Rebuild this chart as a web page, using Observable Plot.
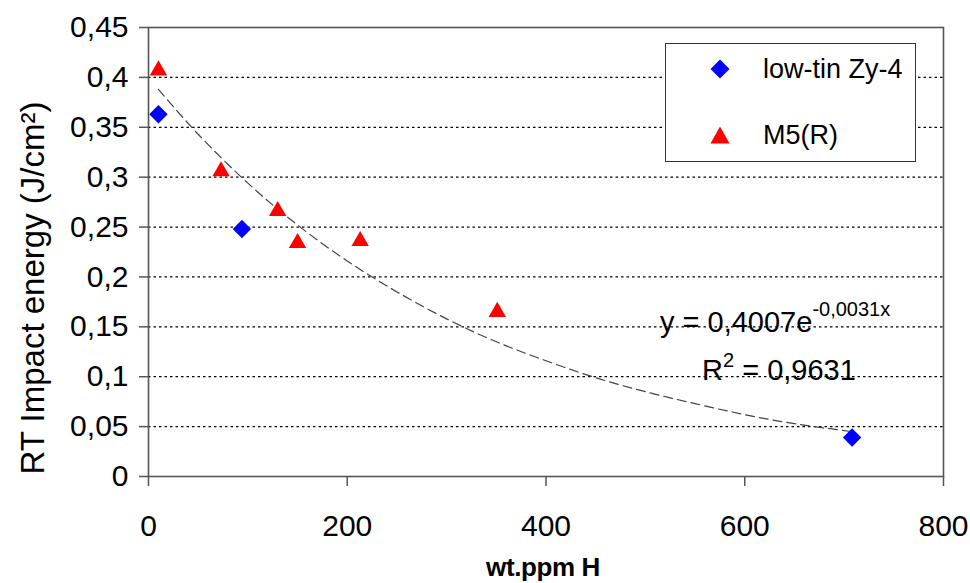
<!DOCTYPE html>
<html>
<head>
<meta charset="utf-8">
<script src="https://cdn.jsdelivr.net/npm/d3@7"></script>
<script src="https://cdn.jsdelivr.net/npm/@observablehq/plot@0.6"></script>
<style>
  html, body { margin: 0; padding: 0; background: #fff; }
  #wrap { position: relative; width: 970px; height: 583px; font-family: "Liberation Sans", Arial, sans-serif; color: #000; }
  #wrap svg { display: block; }
  .abs { position: absolute; white-space: nowrap; line-height: 1; }
</style>
</head>
<body>
<div id="wrap"></div>
<script>
// ---- data ----
const seriesNames = ["low-tin Zy-4", "M5(R)"];
const lowTinX = [10, 94, 708];
const lowTinY = [0.363, 0.248, 0.039];
const m5X = [10, 73, 130, 150, 213, 351];
const m5Y = [0.407, 0.306, 0.266, 0.234, 0.236, 0.165];
// exponential trendline
const fitX = [10, 50, 100, 150, 200, 250, 300, 350, 400, 450, 500, 550, 600, 650, 708];
const fitY = [0.388, 0.343, 0.294, 0.252, 0.216, 0.185, 0.158, 0.135, 0.116, 0.099, 0.085, 0.073, 0.062, 0.053, 0.045];
const xTicks = [0, 200, 400, 600, 800];
const yTicks = [0, 0.05, 0.1, 0.15, 0.2, 0.25, 0.3, 0.35, 0.4, 0.45];
const gridTicks = [0.05, 0.1, 0.15, 0.2, 0.25, 0.3, 0.35, 0.4];
const xTitle = "wt.ppm H";
const yTitle = "RT Impact energy (J/cm²)";
const eqText = "y = 0,4007e";
const eqExp = "-0,0031x";
const r2Value = "0,9631";

const lowTin = lowTinX.map((x, i) => ({x, y: lowTinY[i]}));
const m5 = m5X.map((x, i) => ({x, y: m5Y[i]}));
const fit = fitX.map((x, i) => ({x, y: fitY[i]}));
const fmt = d => String(d).replace(".", ",");

const chart = Plot.plot({
  width: 970,
  height: 583,
  marginLeft: 148,
  marginRight: 27,
  marginTop: 27,
  marginBottom: 107,
  x: {domain: [0, 800]},
  y: {domain: [0, 0.45]},
  style: {fontFamily: "'Liberation Sans', Arial, sans-serif", background: "white", color: "black"},
  marks: [
    Plot.gridY(gridTicks, {stroke: "#000", strokeOpacity: 1, strokeWidth: 1.3, strokeDasharray: "2.5,3"}),
    Plot.frame({stroke: "#555", strokeWidth: 1.6}),
    Plot.axisY(yTicks, {tickSize: 9, tickPadding: 11, tickFormat: fmt, fontSize: 30, stroke: "#555", strokeWidth: 1.5, label: null}),
    Plot.axisX(xTicks, {tickSize: 10, tickPadding: 28, tickFormat: d => String(d), fontSize: 30, stroke: "#555", strokeWidth: 1.5, label: null}),
    Plot.line(fit, {x: "x", y: "y", stroke: "#444", strokeWidth: 1.2, strokeDasharray: "9,5", curve: "natural"}),
    Plot.dot(m5, {x: "x", y: "y", symbol: "triangle2", r: 8.3, fill: "#ff0000"}),
    Plot.dot(lowTin, {x: "x", y: "y", symbol: "diamond2", r: 8.3, fill: "#0000ff"})
  ]
});

const wrap = document.getElementById("wrap");
wrap.appendChild(chart);

// axis titles
const yt = document.createElement("div");
yt.className = "abs";
yt.textContent = yTitle;
yt.style.fontSize = "33px";
yt.style.left = "32px";
yt.style.top = "288px";
yt.style.transform = "translate(-50%, -50%) rotate(-90deg)";
wrap.appendChild(yt);

const xt = document.createElement("div");
xt.className = "abs";
xt.textContent = xTitle;
xt.style.fontSize = "26px";
xt.style.fontWeight = "bold";
xt.style.letterSpacing = "-0.4px";
xt.style.left = "543px";
xt.style.top = "554px";
xt.style.transform = "translateX(-50%)";
wrap.appendChild(xt);

// legend
const leg = document.createElement("div");
leg.className = "abs";
leg.style.left = "665px";
leg.style.top = "43px";
leg.style.width = "249px";
leg.style.height = "117px";
leg.style.border = "1.6px solid #333";
leg.style.background = "#fff";
const glyphs = [
  '<svg width="22" height="22" viewBox="-11 -11 22 22"><polygon points="0,-9.5 9.5,0 0,9.5 -9.5,0" fill="#0000ff"/></svg>',
  '<svg width="22" height="22" viewBox="-11 -11 22 22"><polygon points="0,-8.5 9.5,8.5 -9.5,8.5" fill="#ff0000"/></svg>'
];
seriesNames.forEach((name, i) => {
  const row = document.createElement("div");
  row.className = "abs";
  row.style.left = "0px";
  row.style.top = (i === 0 ? 12 : 78) + "px";
  row.style.fontSize = "27px";
  row.innerHTML = '<span style="position:absolute;left:43px;top:2px">' + glyphs[i] + '</span>' +
                  '<span style="position:absolute;left:97px;top:0px">' + name + '</span>';
  leg.appendChild(row);
});
wrap.appendChild(leg);

// trendline equation
const eq = document.createElement("div");
eq.className = "abs";
eq.style.left = "660px";
eq.style.top = "308px";
eq.style.fontSize = "29px";
eq.innerHTML = eqText + '<span style="font-size:20px;position:relative;top:-16px;">' + eqExp + '</span>';
wrap.appendChild(eq);

const r2 = document.createElement("div");
r2.className = "abs";
r2.style.left = "702px";
r2.style.top = "356px";
r2.style.fontSize = "29px";
r2.innerHTML = 'R<span style="font-size:20px;position:relative;top:-13px;">2</span> = ' + r2Value;
wrap.appendChild(r2);
</script>
</body>
</html>
